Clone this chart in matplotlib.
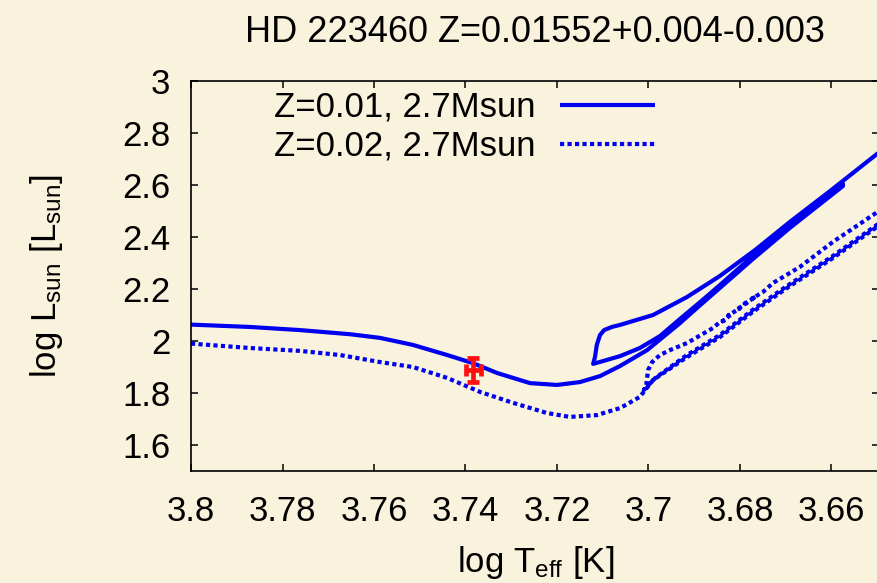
import matplotlib
matplotlib.use("Agg")
import matplotlib.pyplot as plt

# Evolutionary tracks, 2.7 Msun: log Teff / log L along each track
z010_logT = [3.8000, 3.7871, 3.7762, 3.7652, 3.7587, 3.7515, 3.7440, 3.7384, 3.7331,
             3.7259, 3.7200, 3.7150, 3.7106, 3.7062, 3.7003, 3.6931, 3.6887, 3.6844,
             3.6772, 3.6691, 3.6575,
             3.6575, 3.6691, 3.6772, 3.6844, 3.6887, 3.6931, 3.6975, 3.7019, 3.7062,
             3.7099, 3.7121,
             3.7117, 3.7113, 3.7106, 3.7097, 3.7080, 3.7062, 3.6990, 3.6916, 3.6844,
             3.6767, 3.6691, 3.6603, 3.6498, 3.6450]
z010_logL = [2.063, 2.054, 2.042, 2.026, 2.012, 1.985, 1.946, 1.915, 1.877,
             1.838, 1.831, 1.842, 1.865, 1.904, 1.965, 2.069, 2.138, 2.204,
             2.315, 2.435, 2.596,
             2.604, 2.446, 2.327, 2.215, 2.150, 2.085, 2.019, 1.973, 1.942,
             1.923, 1.912,
             1.938, 1.985, 2.023, 2.042, 2.054, 2.062, 2.100, 2.169, 2.250,
             2.350, 2.458, 2.577, 2.723, 2.788]

z020_logT = [3.8000, 3.7871, 3.7762, 3.7674, 3.7587, 3.7515, 3.7440, 3.7368, 3.7296,
             3.7222, 3.7172, 3.7113, 3.7062, 3.7019, 3.6990, 3.6916, 3.6844, 3.6772,
             3.6697, 3.6597, 3.6498, 3.6450,
             3.6450, 3.6498, 3.6597, 3.6697, 3.6772, 3.6844, 3.6916, 3.6985, 3.7010,
             3.7005, 3.7003, 3.7001, 3.6992, 3.6975, 3.6953, 3.6916, 3.6859, 3.6844,
             3.6830, 3.6838, 3.6818, 3.6826, 3.6800, 3.6808, 3.6782, 3.6790, 3.6765,
             3.6773, 3.6750,
             3.6728, 3.6669, 3.6597, 3.6509, 3.6450]
z020_logL = [1.990, 1.973, 1.962, 1.946, 1.919, 1.900, 1.858, 1.804, 1.762,
             1.723, 1.708, 1.715, 1.742, 1.785, 1.850, 1.938, 2.015, 2.112,
             2.204, 2.319, 2.442, 2.504,
             2.510, 2.450, 2.327, 2.212, 2.120, 2.023, 1.946, 1.858, 1.812,
             1.830, 1.858, 1.888, 1.919, 1.946, 1.965, 1.992, 2.050, 2.073,
             2.082, 2.076, 2.104, 2.098, 2.126, 2.120, 2.150, 2.144, 2.170,
             2.164, 2.188,
             2.223, 2.285, 2.381, 2.485, 2.554]

# Observed position of the star with uncertainties
star_logT = [3.7383]
star_logL = [1.8885]
star_err_logT = [0.0016]
star_err_logL = [0.045]

series_labels = ["Z=0.01, 2.7Msun", "Z=0.02, 2.7Msun"]
title_text = "HD 223460 Z=0.01552+0.004-0.003"

x_ticks = [3.80, 3.78, 3.76, 3.74, 3.72, 3.70, 3.68, 3.66]
x_tick_labels = ["3.8", "3.78", "3.76", "3.74", "3.72", "3.7", "3.68", "3.66"]
y_ticks = [1.6, 1.8, 2.0, 2.2, 2.4, 2.6, 2.8, 3.0]
y_tick_labels = ["1.6", "1.8", "2", "2.2", "2.4", "2.6", "2.8", "3"]

plt.rcParams["font.family"] = ["Liberation Sans", "DejaVu Sans"]
plt.rcParams["mathtext.default"] = "regular"

bg = "#F9F2DD"
fig = plt.figure(figsize=(8.78, 5.83), dpi=100, facecolor=bg)
ax = fig.add_axes([191 / 878, (583 - 471) / 583, (879.5 - 191) / 878, 390 / 583])
ax.set_facecolor(bg)

blue = "#0000F0"
ax.plot(z010_logT, z010_logL, color=blue, lw=3.0, solid_capstyle="butt",
        solid_joinstyle="round", label=series_labels[0])
ax.plot(z020_logT, z020_logL, color=blue, lw=3.0, linestyle=(0, (1, 0.8)),
        dash_capstyle="butt", label=series_labels[1])

ax.errorbar(star_logT, star_logL, xerr=star_err_logT, yerr=star_err_logL,
            fmt="none", ecolor="#FF1010", elinewidth=3.4, capsize=4.5, capthick=3.4,
            zorder=5)

ax.set_xlim(3.8, 3.8 - (879.5 - 191) / 4575)
ax.set_ylim(1.5, 3.0)
ax.set_xticks(x_ticks)
ax.set_xticklabels(x_tick_labels)
ax.set_yticks(y_ticks)
ax.set_yticklabels(y_tick_labels)
ax.tick_params(direction="in", length=5, width=1.1, top=True, right=True,
               labelsize=25, colors="black")
ax.tick_params(axis="x", pad=17)
ax.tick_params(axis="y", pad=15)
for s in ax.spines.values():
    s.set_linewidth(1.2)

ax.set_title(title_text, fontsize=26, pad=28)
ax.set_xlabel("log T$_{eff}$ [K]", fontsize=25, labelpad=12)
ax.set_ylabel("log L$_{sun}$ [L$_{sun}$]", fontsize=25, labelpad=41)

ax.legend(loc="upper right", bbox_to_anchor=((655 - 191) / 688.5, 0.975),
          markerfirst=False, frameon=False, fontsize=25, handlelength=2.75,
          handletextpad=0.7, labelspacing=0.17, borderpad=0, borderaxespad=0)

fig.savefig("out.png", dpi=100, facecolor=bg)
